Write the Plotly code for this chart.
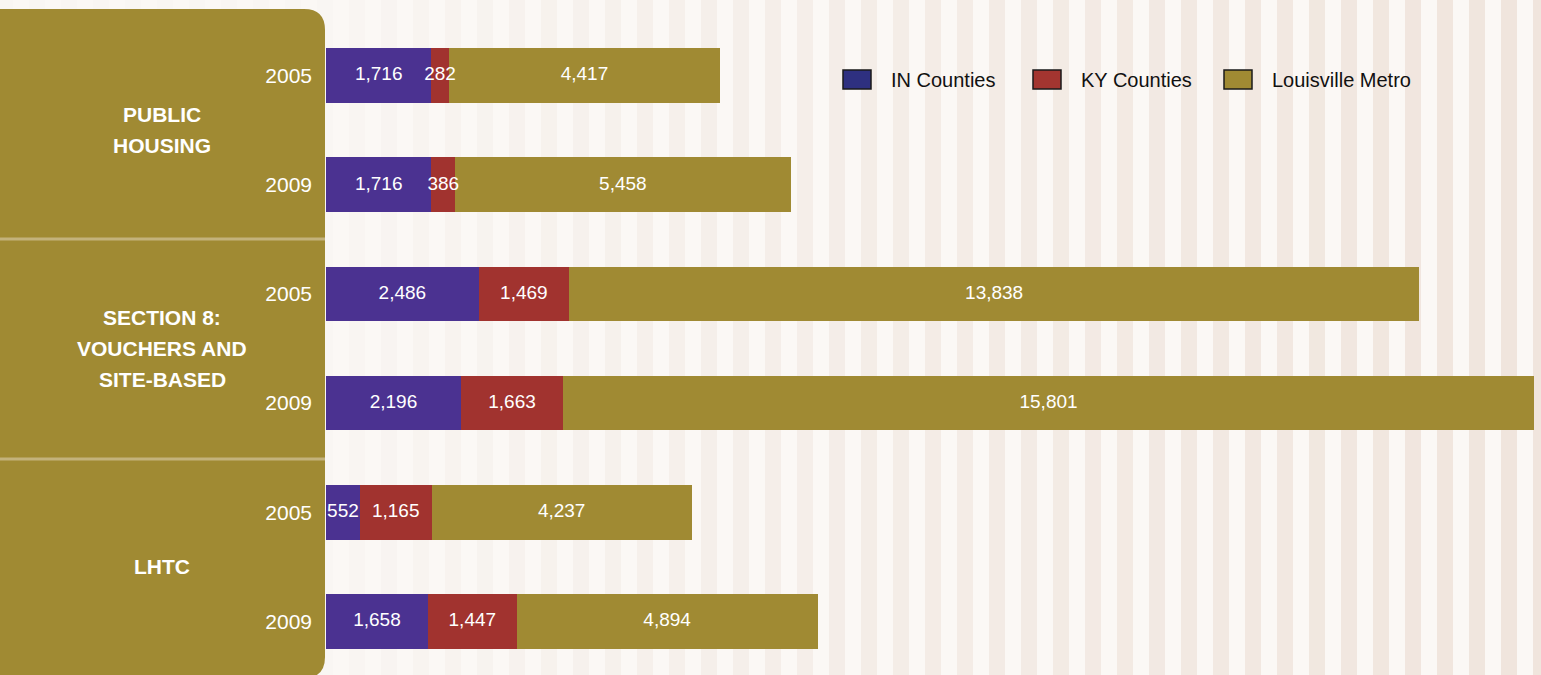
import plotly.graph_objects as go

# ---- data ----
group_labels = ["PUBLIC<br>HOUSING", "SECTION 8:<br>VOUCHERS AND<br>SITE-BASED", "LHTC"]
years = ["2005", "2009", "2005", "2009", "2005", "2009"]
in_counties = [1716, 1716, 2486, 2196, 552, 1658]
ky_counties = [282, 386, 1469, 1663, 1165, 1447]
louisville_metro = [4417, 5458, 13838, 15801, 4237, 4894]
series_names = ["IN Counties", "KY Counties", "Louisville Metro"]

# ---- style ----
W, H = 1541, 675
ML, MR, MT, MB = 326, 7, 21, 0
PW, PH = W - ML - MR, H - MT - MB
bar_colors = ["#4b3291", "#a1332f", "#a08a33"]
legend_colors = ["#2e3080", "#a33530", "#a08a33"]
panel_color = "#a08a33"
NUM_FONT = "Liberation Sans, Arial, sans-serif"

rows = list(range(len(years)))
series = [in_counties, ky_counties, louisville_metro]
xmax = max(a + b + c for a, b, c in zip(*series))
unit_px = PH / (5.49 + 0.5)


def px(x):
    return (x - ML) / PW


def py(y):
    return 1 - (y - MT) / PH


fig = go.Figure()

# stacked bars
for name, vals, col in zip(series_names, series, bar_colors):
    fig.add_trace(go.Bar(
        y=rows, x=vals, name=name, orientation="h",
        marker=dict(color=col, line=dict(width=0)), width=0.5,
        showlegend=False, hoverinfo="x+name",
    ))

# value labels (centred in each segment)
left = [0] * len(rows)
for vals in series:
    mids = [l + v / 2 for l, v in zip(left, vals)]
    fig.add_trace(go.Scatter(
        x=mids, y=rows, mode="text",
        text=[f"{v:,}" for v in vals],
        textfont=dict(color="white", size=19, family=NUM_FONT),
        showlegend=False, hoverinfo="skip",
    ))
    left = [l + v for l, v in zip(left, vals)]

shapes = []


def lerp(c1, c2, t):
    a = [int(c1[i:i + 2], 16) for i in (1, 3, 5)]
    b = [int(c2[i:i + 2], 16) for i in (1, 3, 5)]
    return "#" + "".join(f"{round(x + (y - x) * t):02x}" for x, y in zip(a, b))


# striped background
x0 = -3
while x0 < W:
    t = min(max((x0 + 8 - ML) / (W - ML), 0), 1) ** 0.8
    shapes.append(dict(type="rect", xref="paper", yref="paper", layer="below",
                       x0=px(x0), x1=px(x0 + 16), y0=py(-2), y1=py(H + 2),
                       fillcolor=lerp("#f9f6f3", "#f0e5dd", t), line=dict(width=0)))
    x0 += 32

# left panel with rounded right corners
top, bot, right, r = 9, 678, 325, 21
path = (f"M {px(0)},{py(top)} L {px(right - r)},{py(top)} "
        f"Q {px(right)},{py(top)} {px(right)},{py(top + r)} "
        f"L {px(right)},{py(bot - r)} Q {px(right)},{py(bot)} {px(right - r)},{py(bot)} "
        f"L {px(0)},{py(bot)} Z")
shapes.append(dict(type="path", xref="paper", yref="paper", layer="below", path=path,
                   fillcolor=panel_color, line=dict(width=0)))
for ysep in (239, 459):
    shapes.append(dict(type="line", xref="paper", yref="paper", layer="below",
                       x0=px(0), x1=px(right), y0=py(ysep), y1=py(ysep),
                       line=dict(color="#c3b27c", width=3)))

annotations = []
# group labels (one annotation per line for 31px line spacing)
line_gap = 31 / unit_px
for g, lab in enumerate(group_labels):
    lines = lab.split("<br>")
    n = len(lines)
    for i, ln in enumerate(lines):
        annotations.append(dict(
            xref="paper", yref="y", x=px(162),
            y=2 * g + 0.5 + (i - (n - 1) / 2) * line_gap, text=f"<b>{ln}</b>",
            showarrow=False, xanchor="center", yanchor="middle", align="center",
            font=dict(color="white", size=21, family=NUM_FONT),
        ))

# custom legend
leg_sq = [(843, 871), (1033, 1061), (1224, 1252)]
for (a, b), name, col in zip(leg_sq, series_names, legend_colors):
    shapes.append(dict(type="rect", xref="paper", yref="paper",
                       x0=px(a), x1=px(b), y0=py(70), y1=py(89),
                       fillcolor=col, line=dict(color="#1a1a1a", width=1.5)))
    annotations.append(dict(
        xref="paper", yref="paper", x=px(b + 18), y=py(80), text=name,
        showarrow=False, xanchor="left", yanchor="middle",
        font=dict(color="#111111", size=20, family=NUM_FONT),
    ))

fig.update_layout(
    width=W, height=H,
    margin=dict(l=ML, r=MR, t=MT, b=MB, pad=0),
    barmode="stack",
    paper_bgcolor="#fbf8f5", plot_bgcolor="rgba(0,0,0,0)",
    showlegend=False,
    shapes=shapes, annotations=annotations,
    xaxis=dict(range=[0, xmax], visible=False, fixedrange=True),
    yaxis=dict(range=[5.49, -0.5], tickvals=rows, ticktext=years,
               showgrid=False, zeroline=False, showline=False, ticks="",
               ticklabelstandoff=13, automargin=False, fixedrange=True,
               tickfont=dict(color="white", size=21, family=NUM_FONT)),
)

fig.write_html("out.html", config={"displayModeBar": False},
               post_script="document.body.style.margin='0';document.body.style.overflow='hidden';")
